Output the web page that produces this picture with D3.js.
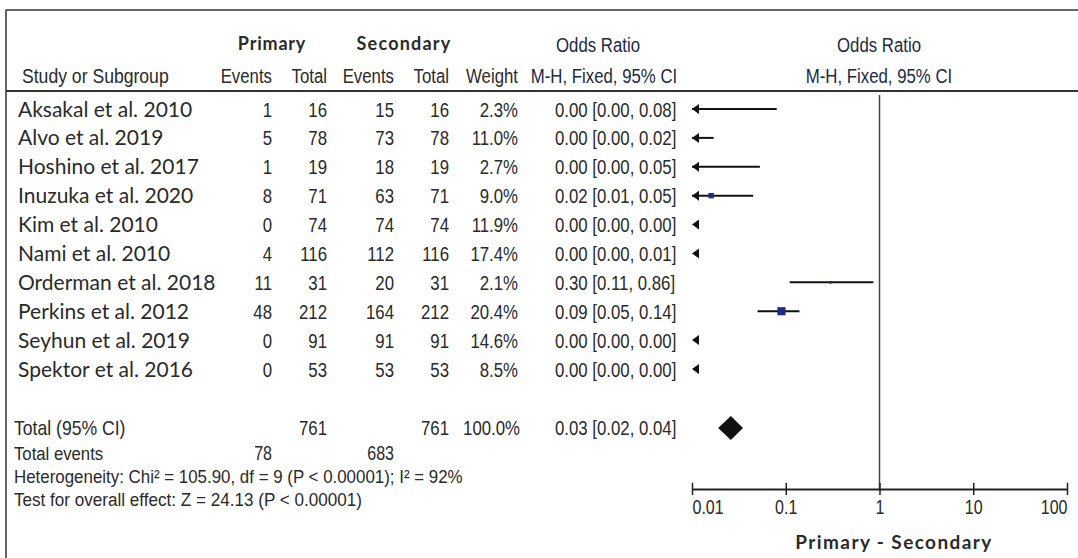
<!DOCTYPE html>
<html>
<head>
<meta charset="utf-8">
<script src="https://cdn.jsdelivr.net/npm/d3@7"></script>
<style>
  body { margin: 0; background: #fff; }
  .narrow { font-family: "Liberation Sans Narrow", "Arial Narrow", "Liberation Sans", sans-serif; fill: #2a2a2a; }
  .name { font-family: Lato, "Open Sans", sans-serif; fill: #2a2a2a; }
  .group { font-family: Lato, "Open Sans", sans-serif; font-weight: 700; fill: #2a2a2a; }
</style>
</head>
<body>
<div id="container"></div>
<script>
// 数据
const studies = ["Aksakal et al. 2010", "Alvo et al. 2019", "Hoshino et al. 2017", "Inuzuka et al. 2020",
  "Kim et al. 2010", "Nami et al. 2010", "Orderman et al. 2018", "Perkins et al. 2012",
  "Seyhun et al. 2019", "Spektor et al. 2016"];
const primaryEvents = [1, 5, 1, 8, 0, 4, 11, 48, 0, 0];
const primaryTotal = [16, 78, 19, 71, 74, 116, 31, 212, 91, 53];
const secondaryEvents = [15, 73, 18, 63, 74, 112, 20, 164, 91, 53];
const secondaryTotal = [16, 78, 19, 71, 74, 116, 31, 212, 91, 53];
const weights = [2.3, 11.0, 2.7, 9.0, 11.9, 17.4, 2.1, 20.4, 14.6, 8.5];
const orLabels = ["0.00 [0.00, 0.08]", "0.00 [0.00, 0.02]", "0.00 [0.00, 0.05]", "0.02 [0.01, 0.05]",
  "0.00 [0.00, 0.00]", "0.00 [0.00, 0.01]", "0.30 [0.11, 0.86]", "0.09 [0.05, 0.14]",
  "0.00 [0.00, 0.00]", "0.00 [0.00, 0.00]"];
// 图上读出的点估计和置信区间(小于0.01的只画箭头)
const orEst = [0.0044, 0.0047, 0.003, 0.016, 0.0001, 0.0013, 0.30, 0.09, 0.0001, 0.0001];
const ciLow = [0.0003, 0.001, 0.0002, 0.005, 0.00001, 0.0002, 0.11, 0.05, 0.00001, 0.00001];
const ciHigh = [0.08, 0.017, 0.053, 0.045, 0.008, 0.009, 0.86, 0.14, 0.008, 0.008];
const totalPrimary = 761, totalSecondary = 761, totalWeight = "100.0%";
const eventsPrimary = 78, eventsSecondary = 683;
const pooled = { est: 0.026, low: 0.019, high: 0.035, label: "0.03 [0.02, 0.04]" };
const tickValues = [0.01, 0.1, 1, 10, 100];
const heterogeneity = "Heterogeneity: Chi² = 105.90, df = 9 (P < 0.00001); I² = 92%";
const overallEffect = "Test for overall effect: Z = 24.13 (P < 0.00001)";

// 布局参数
const svgWidth = 1078, svgHeight = 558;
const colRight = { pe: 272, pt: 327, se: 394, st: 449, w: 518 };
const orTextX = 555;
const axisY = 489;
const fs = 21;
const squeeze = 0.8;   // 模拟 Arial Narrow

const svg = d3.select("#container").append("svg")
  .attr("width", svgWidth).attr("height", svgHeight);

const x = d3.scaleLog().domain([0.01, 100]).range([692, 1067]);
const y = d3.scalePoint().domain(studies).range([109, 369]);

// 边框
svg.append("line").attr("x1", 6).attr("x2", svgWidth).attr("y1", 10).attr("y2", 10)
  .attr("stroke", "#333").attr("stroke-width", 1.5);
svg.append("line").attr("x1", 6).attr("x2", 6).attr("y1", 10).attr("y2", svgHeight)
  .attr("stroke", "#333").attr("stroke-width", 1.5);
svg.append("line").attr("x1", 6).attr("x2", svgWidth).attr("y1", 91).attr("y2", 91)
  .attr("stroke", "#333").attr("stroke-width", 2);

// 文本工具
function narrow(sel, s, tx, ty, anchor, size, k) {
  return sel.append("text").attr("class", "narrow")
    .attr("transform", `translate(${tx},${ty}) scale(${k || squeeze},1)`)
    .attr("text-anchor", anchor || "start").attr("font-size", size || fs).text(s);
}
function label(cls, s, tx, ty, size, ls) {
  return svg.append("text").attr("class", cls).attr("x", tx).attr("y", ty)
    .attr("text-anchor", "middle").attr("font-size", size).attr("letter-spacing", ls).text(s);
}

// 表头
label("group", "Primary", 272, 50, 18, 0.8);
label("group", "Secondary", 404, 50, 18, 1.2);
narrow(svg, "Odds Ratio", 598, 52, "middle").style("fill", "#1d2a40");
narrow(svg, "Odds Ratio", 879, 52, "middle").style("fill", "#1d2a40");
narrow(svg, "Study or Subgroup", 22, 83, "start", 20, 0.88);
narrow(svg, "Events", colRight.pe, 83, "end");
narrow(svg, "Total", colRight.pt, 83, "end");
narrow(svg, "Events", colRight.se, 83, "end");
narrow(svg, "Total", colRight.st, 83, "end");
narrow(svg, "Weight", colRight.w, 83, "end");
narrow(svg, "M-H, Fixed, 95% CI", 604, 83, "middle").style("fill", "#1d2a40");
narrow(svg, "M-H, Fixed, 95% CI", 879, 83, "middle").style("fill", "#1d2a40");

// 研究行
const rows = svg.append("g").selectAll("g").data(studies).enter().append("g")
  .attr("class", "row")
  .attr("transform", d => `translate(0,${y(d) + 7.5})`);
rows.append("text").attr("class", "name").attr("x", 18).attr("font-size", 21).text(d => d);
const cols = [[primaryEvents, colRight.pe], [primaryTotal, colRight.pt],
  [secondaryEvents, colRight.se], [secondaryTotal, colRight.st]];
rows.each(function(d, i) {
  const g = d3.select(this);
  cols.forEach(([arr, cx]) => narrow(g, arr[i], cx, 0, "end"));
  narrow(g, weights[i].toFixed(1) + "%", colRight.w, 0, "end");
  narrow(g, orLabels[i], orTextX, 0, "start");
});

// 竖线
svg.append("line").attr("x1", x(1)).attr("x2", x(1)).attr("y1", 95).attr("y2", axisY)
  .attr("stroke", "#444").attr("stroke-width", 1.5);

// 置信区间和方块
const [xmin, xmax] = x.domain();
const marks = svg.append("g");
studies.forEach((s, i) => {
  const cy = y(s);
  const lo = Math.max(ciLow[i], xmin), hi = Math.min(ciHigh[i], xmax);
  if (ciHigh[i] > xmin) {
    marks.append("line").attr("x1", x(lo)).attr("x2", x(hi)).attr("y1", cy).attr("y2", cy)
      .attr("stroke", "#111").attr("stroke-width", 2);
  }
  if (ciLow[i] < xmin) {
    const ax = x(xmin);
    marks.append("path").attr("d", `M${ax},${cy}L${ax + 7},${cy - 5}L${ax + 7},${cy + 5}Z`)
      .attr("fill", "#111");
  }
  if (orEst[i] >= xmin && orEst[i] <= xmax) {
    const side = Math.sqrt(weights[i]) * 1.8;
    marks.append("rect").attr("x", x(orEst[i]) - side / 2).attr("y", cy - side / 2)
      .attr("width", side).attr("height", side).attr("fill", "#1f2a80");
  }
});

// 合计
const totalY = 428;
narrow(svg, "Total (95% CI)", 14, totalY + 7, "start", 20, 0.88);
narrow(svg, totalPrimary, colRight.pt, totalY + 7, "end");
narrow(svg, totalSecondary, colRight.st, totalY + 7, "end");
narrow(svg, totalWeight, colRight.w + 2, totalY + 7, "end");
narrow(svg, pooled.label, orTextX, totalY + 7, "start");
svg.append("path")
  .attr("d", `M${x(pooled.low)},${totalY}L${x(pooled.est)},${totalY - 12}L${x(pooled.high)},${totalY}L${x(pooled.est)},${totalY + 12}Z`)
  .attr("fill", "#111");

narrow(svg, "Total events", 14, 460, "start", 19, 0.88);
narrow(svg, eventsPrimary, colRight.pe, 460, "end", 20);
narrow(svg, eventsSecondary, colRight.se, 460, "end", 20);
narrow(svg, heterogeneity, 14, 483, "start", 19, 0.89);
narrow(svg, overallEffect, 14, 506, "start", 19, 0.9);

// 坐标轴
const tickAnchor = ["start", "middle", "middle", "middle", "end"];
const axis = d3.axisBottom(x).tickValues(tickValues).tickFormat(d => String(d))
  .tickSize(6).tickSizeOuter(0).tickPadding(5);
const gAxis = svg.append("g").attr("transform", `translate(0,${axisY})`).call(axis);
gAxis.select(".domain").attr("stroke", "#222").attr("stroke-width", 2);
gAxis.selectAll(".tick line").attr("y1", -6).attr("stroke", "#222").attr("stroke-width", 1.5);
gAxis.selectAll(".tick text").attr("class", "narrow").attr("font-size", 20).attr("fill", "#2a2a2a")
  .attr("text-anchor", (d, i) => tickAnchor[i])
  .attr("transform", `scale(${squeeze},1)`);

label("group", "Primary  -  Secondary", 894, 549, 19, 1.4);
</script>
</body>
</html>
